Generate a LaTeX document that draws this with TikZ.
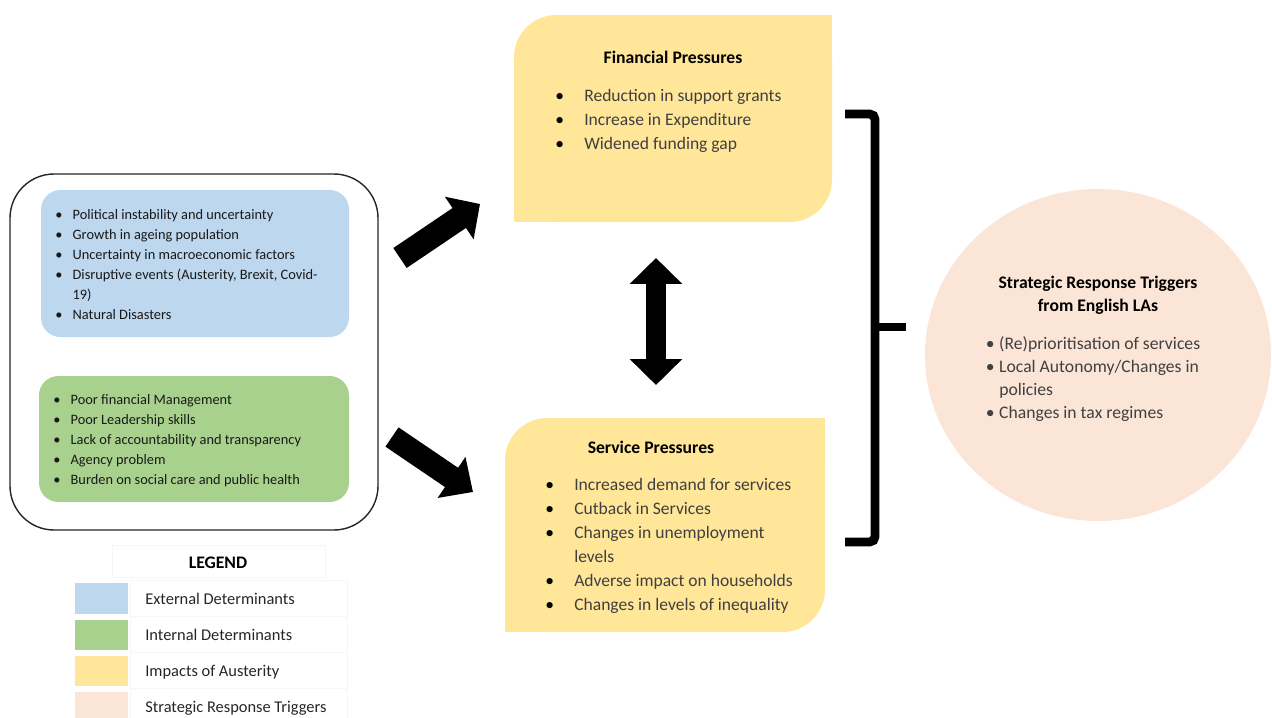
\documentclass[tikz,border=0pt]{standalone}
\usepackage{fontspec}
\setmainfont{Carlito}
\usetikzlibrary{arrows.meta}
\definecolor{extblue}{HTML}{BDD7EE}
\definecolor{intgreen}{HTML}{A9D18E}
\definecolor{impyellow}{HTML}{FFE699}
\definecolor{srpeach}{HTML}{FBE5D6}
\definecolor{itemgray}{HTML}{404040}
\tikzset{
  listnode/.style={anchor=base west, inner sep=0pt, align=left},
  titlenode/.style={anchor=base, inner sep=0pt, font=\fontsize{10}{12}\selectfont\bfseries},
  blockarrow/.style={draw=black, line cap=butt},
  legendcell/.style={draw=gray!7, line width=0.4pt},
  legendlabel/.style={anchor=base west, inner sep=0pt, font=\fontsize{9.3}{11}\selectfont, text=black!85},
}
\begin{document}
\begin{tikzpicture}[x=0.5669pt, y=-0.5669pt]
\useasboundingbox (0,0) rectangle (1272,718);

% ---- left determinants block ----
\draw[line width=0.8pt, draw=black!85, rounded corners=25pt] (10,174) rectangle (378,530);
\fill[extblue, rounded corners=11pt] (41,190) rectangle (349,337);
\fill[intgreen, rounded corners=11pt] (39,376) rectangle (349,502);

\node[listnode, font=\fontsize{8.15}{11.3}\selectfont, text=black!90] (ext) at (55,219.5) {%
\begin{tabular}[t]{@{}p{9.8pt}@{}l@{}}
\textbullet & Political instability and uncertainty\\
\textbullet & Growth in ageing population\\
\textbullet & Uncertainty in macroeconomic factors\\
\textbullet & Disruptive events (Austerity, Brexit, Covid-\\
 & 19)\\
\textbullet & Natural Disasters
\end{tabular}};

\node[listnode, font=\fontsize{8.15}{11.3}\selectfont, text=black!90] (int) at (53,404.5) {%
\begin{tabular}[t]{@{}p{9.8pt}@{}l@{}}
\textbullet & Poor financial Management\\
\textbullet & Poor Leadership skills\\
\textbullet & Lack of accountability and transparency\\
\textbullet & Agency problem\\
\textbullet & Burden on social care and public health
\end{tabular}};

% ---- financial pressures ----
\fill[impyellow, rounded corners=24pt] (514,15) rectangle (832,222);
\fill[impyellow] (514,130) rectangle (600,222);
\fill[impyellow] (700,15) rectangle (832,100);
\node[titlenode] (fint) at (673,63.5) {Financial Pressures};
\node[listnode, font=\fontsize{9.95}{13.6}\selectfont, text=itemgray] (fin) at (555,101.5) {%
\begin{tabular}[t]{@{}p{16.4pt}@{}l@{}}
\textcolor{black}{\textbullet} & Reduction in support grants\\
\textcolor{black}{\textbullet} & Increase in Expenditure\\
\textcolor{black}{\textbullet} & Widened funding gap
\end{tabular}};

% ---- service pressures ----
\fill[impyellow, rounded corners=24pt] (505,418) rectangle (825,632);
\fill[impyellow] (505,530) rectangle (600,632);
\fill[impyellow] (700,418) rectangle (825,500);
\node[titlenode] (sert) at (651,453.5) {Service Pressures};
\node[listnode, font=\fontsize{9.95}{13.6}\selectfont, text=itemgray] (ser) at (545,490.5) {%
\begin{tabular}[t]{@{}p{16.4pt}@{}l@{}}
\textcolor{black}{\textbullet} & Increased demand for services\\
\textcolor{black}{\textbullet} & Cutback in Services\\
\textcolor{black}{\textbullet} & Changes in unemployment\\
 & levels\\
\textcolor{black}{\textbullet} & Adverse impact on households\\
\textcolor{black}{\textbullet} & Changes in levels of inequality
\end{tabular}};

% ---- strategic response circle ----
\fill[srpeach] (1098,355) ellipse [x radius=173, y radius=166];
\node[anchor=base, inner sep=0pt, align=center, font=\fontsize{10}{12.5}\selectfont\bfseries] (srt) at (1098,311) {Strategic Response Triggers\\from English LAs};
\node[listnode, font=\fontsize{10}{13.2}\selectfont, text=itemgray] (sr) at (985.5,349) {%
\begin{tabular}[t]{@{}p{7.6pt}@{}l@{}}
\textbullet & (Re)prioritisation of services\\
\textbullet & Local Autonomy/Changes in\\
 & policies\\
\textbullet & Changes in tax regimes
\end{tabular}};

% ---- brace ----
\coordinate (bt) at (845,114);
\coordinate (bb) at (845,542);
\coordinate (bm) at (875,327);
\coordinate (btip) at (906,327);
\draw[line width=5pt, rounded corners=3pt] (bt) -- (875,114) -- (875,542) -- (bb);
\draw[line width=5pt] (bm) -- (btip);

% ---- block arrows ----
\coordinate (a1s) at (400,258);
\coordinate (a1e) at (480,204);
\coordinate (a2s) at (392,437);
\coordinate (a2e) at (473,492);
\coordinate (a3s) at (656,258);
\coordinate (a3e) at (656,385);
\draw[blockarrow, line width=13.6pt, -{Triangle[length=14.2pt, width=28.3pt]}] (a1s) -- (a1e);
\draw[blockarrow, line width=13.2pt, -{Triangle[length=14.7pt, width=27.2pt]}] (a2s) -- (a2e);
\draw[blockarrow, line width=11pt, {Triangle[length=14.7pt, width=28.9pt]}-{Triangle[length=14.7pt, width=28.9pt]}] (a3s) -- (a3e);

% ---- legend ----
\draw[legendcell] (112,545) rectangle (325,577);
\node[anchor=base, inner sep=0pt, font=\fontsize{10}{12}\selectfont\bfseries] (legt) at (218,568.5) {LEGEND};
\draw[legendcell] (130,580) rectangle (347,616);
\draw[legendcell] (130,616) rectangle (347,652);
\draw[legendcell] (130,652) rectangle (347,688);
\draw[legendcell] (130,688) rectangle (347,724);
\fill[extblue] (75,583) rectangle (128,614);
\fill[intgreen] (75,620) rectangle (128,650);
\fill[impyellow] (75,656) rectangle (128,686);
\fill[srpeach] (75,692) rectangle (128,722);
\node[legendlabel] (l1) at (145,604) {External Determinants};
\node[legendlabel] (l2) at (145,640) {Internal Determinants};
\node[legendlabel] (l3) at (145,676) {Impacts of Austerity};
\node[legendlabel] (l4) at (145,712) {Strategic Response Triggers};
\end{tikzpicture}
\end{document}
